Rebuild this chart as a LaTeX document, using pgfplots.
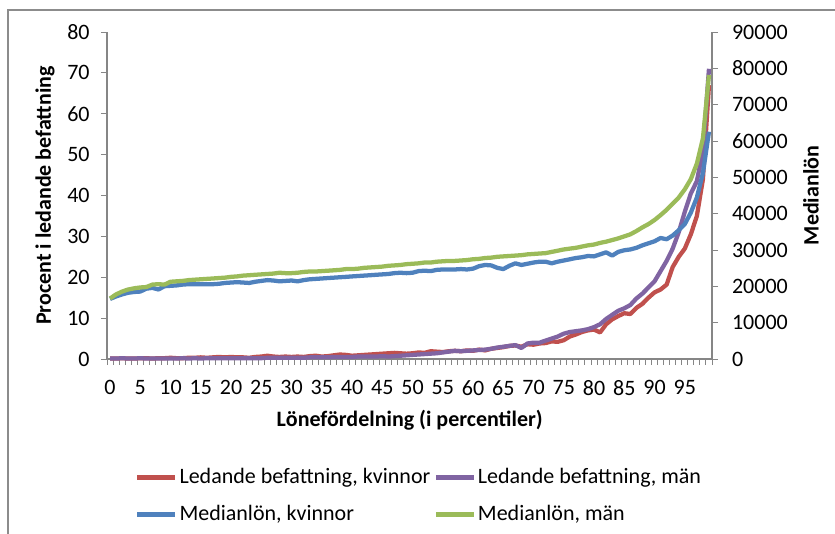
\documentclass[border=0pt]{standalone}
\usepackage{pgfplots}
\pgfplotsset{compat=1.18}
\usepackage{pgfplotstable}
\usepackage{fontspec}
\setmainfont{Carlito}

\definecolor{xlred}{RGB}{192,80,77}
\definecolor{xlpurple}{RGB}{128,100,162}
\definecolor{xlblue}{RGB}{79,129,189}
\definecolor{xlgreen}{RGB}{155,187,89}
\definecolor{axisgray}{RGB}{134,134,134}
\definecolor{framegray}{RGB}{140,140,140}

% andel i ledande befattning (procent), per percentil
\pgfplotstableread{
p red purple
0 0.1 0.1
1 0.1 0.1
2 0.2 0.2
3 0.1 0.1
4 0.1 0.1
5 0.2 0.2
6 0.2 0.1
7 0.1 0.1
8 0.2 0.1
9 0.2 0.1
10 0.3 0.1
11 0.2 0.1
12 0.2 0.2
13 0.3 0.1
14 0.3 0.2
15 0.4 0.1
16 0.3 0.2
17 0.4 0.2
18 0.5 0.2
19 0.4 0.2
20 0.5 0.2
21 0.4 0.2
22 0.4 0.2
23 0.3 0.2
24 0.5 0.2
25 0.6 0.2
26 0.8 0.3
27 0.6 0.3
28 0.5 0.3
29 0.6 0.3
30 0.5 0.3
31 0.6 0.3
32 0.5 0.3
33 0.7 0.4
34 0.8 0.4
35 0.6 0.4
36 0.7 0.4
37 0.9 0.5
38 1.1 0.5
39 1.0 0.5
40 0.8 0.5
41 0.9 0.6
42 1.0 0.6
43 1.1 0.6
44 1.2 0.6
45 1.3 0.7
46 1.4 0.6
47 1.5 0.7
48 1.4 0.8
49 1.3 0.9
50 1.4 1.0
51 1.6 1.1
52 1.5 1.2
53 1.9 1.3
54 1.8 1.4
55 1.7 1.6
56 1.9 1.8
57 2.0 2.0
58 1.9 1.9
59 2.1 2.0
60 2.0 2.1
61 2.3 2.2
62 2.1 2.3
63 2.5 2.5
64 2.7 2.8
65 2.9 3.0
66 3.2 3.2
67 3.3 3.4
68 3.0 2.7
69 3.6 3.8
70 3.5 4.0
71 3.8 4.0
72 3.9 4.5
73 4.3 5.0
74 4.2 5.5
75 4.6 6.2
76 5.5 6.6
77 6.0 6.8
78 6.6 7.0
79 7.0 7.3
80 7.2 7.8
81 6.5 8.5
82 8.5 9.8
83 9.7 10.8
84 10.5 11.8
85 11.2 12.4
86 11.0 13.2
87 12.5 14.8
88 13.5 16.0
89 15.0 17.5
90 16.3 19.0
91 17.0 21.5
92 18.2 24.0
93 22.5 27.0
94 25.0 31.0
95 27.0 36.0
96 30.5 40.5
97 35.0 43.5
98 44.0 51.0
99 67.0 71.0
}\lead

% medianlon (kr), per percentil
\pgfplotstableread{
p blue green
0 16540 16650
1 17210 17780
2 17780 18560
3 18230 19130
4 18450 19460
5 18560 19690
6 19350 19800
7 19580 20480
8 19130 20590
9 20030 20480
10 20140 21260
11 20250 21380
12 20480 21490
13 20590 21710
14 20590 21830
15 20590 21940
16 20590 22050
17 20590 22160
18 20700 22280
19 20930 22390
20 21040 22610
21 21150 22730
22 21040 22950
23 20930 23060
24 21260 23180
25 21490 23290
26 21710 23400
27 21600 23510
28 21380 23740
29 21490 23630
30 21600 23630
31 21380 23740
32 21710 23960
33 21940 24080
34 22050 24080
35 22160 24190
36 22280 24300
37 22390 24410
38 22500 24530
39 22610 24750
40 22730 24750
41 22840 24860
42 22950 25090
43 23060 25200
44 23180 25310
45 23290 25430
46 23400 25650
47 23630 25760
48 23740 25880
49 23630 26100
50 23740 26210
51 24190 26330
52 24300 26550
53 24190 26550
54 24530 26780
55 24640 26890
56 24640 27000
57 24640 27000
58 24750 27110
59 24640 27230
60 24860 27450
61 25540 27560
62 25880 27790
63 25760 27900
64 25090 28130
65 24750 28240
66 25650 28350
67 26330 28460
68 25880 28580
69 26210 28800
70 26550 28910
71 26780 29030
72 26780 29140
73 26330 29480
74 26780 29810
75 27110 30150
76 27450 30380
77 27790 30600
78 28010 30940
79 28350 31280
80 28240 31500
81 28800 31950
82 29360 32290
83 28460 32740
84 29480 33190
85 29930 33750
86 30150 34310
87 30600 35210
88 31280 36230
89 31840 37130
90 32400 38250
91 33300 39600
92 32960 41060
93 33980 42750
94 35440 44440
95 37130 46690
96 40280 49500
97 44440 53780
98 51190 60750
99 62550 78190
}\median

\begin{document}
\begin{tikzpicture}
\useasboundingbox (-80.25pt,-131.25pt) rectangle (546pt,269.25pt);
\draw[framegray, line width=0.9pt] (-74.25pt,-140pt) -- (-74.25pt,261.75pt) -- (560pt,261.75pt);

\pgfplotsset{
  xlbase/.style={
    at={(0,0)}, anchor=south west,
    scale only axis, width=453.75pt, height=245.25pt,
    xmin=-0.5, xmax=99.5,
    clip=false,
    axis line style={draw=axisgray, line width=0.9pt},
    tick align=outside,
    major tick length=4.5pt,
    minor tick length=4.5pt,
    every tick/.style={draw=axisgray, line width=0.7pt},
    tick label style={font=\fontsize{16.5}{19}\selectfont, black},
    /pgf/number format/assume math mode=true,
    /pgf/number format/set thousands separator={},
    scaled y ticks=false,
    every axis plot/.append style={line width=3.2pt, line join=round, no marks},
  }
}

\begin{axis}[
  xlbase,
  axis x line*=bottom, axis y line*=left,
  ymin=0, ymax=80,
  ytick={0,10,...,80},
  xtick={0,5,...,95},
  minor xtick={-0.5,0.5,...,99.5},
  major x tick style={draw=none},
  xticklabel style={yshift=-8pt},
  yticklabel style={xshift=-5pt},
]
\addplot[xlred] table[x=p, y=red] {\lead};
\addplot[xlpurple] table[x=p, y=purple] {\lead};
\end{axis}

\begin{axis}[
  xlbase,
  axis y line*=right, axis x line=none,
  ymin=0, ymax=90000,
  ytick={0,10000,...,90000},
  yticklabel style={xshift=7pt},
  legend columns=2,
  legend cell align=left,
  legend style={draw=none, fill=none, at={(axis description cs:0,0)}, anchor=north west,
    xshift=18pt, yshift=-79pt,
    font=\fontsize{16.5}{19}\selectfont,
    nodes={text height=12pt, text depth=3.5pt, inner xsep=1.5pt, inner ysep=0pt},
    row sep=12.25pt,
    /tikz/every even column/.append style={column sep=1pt}},
  legend image code/.code={\draw[#1, line width=3.2pt] (0pt,0pt) -- (28.5pt,0pt);},
]
\addlegendimage{xlred}
\addlegendentry{Ledande befattning, kvinnor}
\addlegendimage{xlpurple}
\addlegendentry{Ledande befattning, män}
\addplot[xlblue] table[x=p, y=blue] {\median};
\addlegendentry{Medianlön, kvinnor}
\addplot[xlgreen] table[x=p, y=green] {\median};
\addlegendentry{Medianlön, män}
\end{axis}

\node[rotate=90, font=\fontsize{16.5}{19}\selectfont\bfseries] at (-46.5pt,122.6pt) {Procent i ledande befattning};
\node[rotate=90, font=\fontsize{16.5}{19}\selectfont\bfseries] at (528pt,122.6pt) {Medianlön};
\node[font=\fontsize{16.5}{19}\selectfont\bfseries] at (227pt,-45.75pt) {Lönefördelning (i percentiler)};
\end{tikzpicture}
\end{document}
